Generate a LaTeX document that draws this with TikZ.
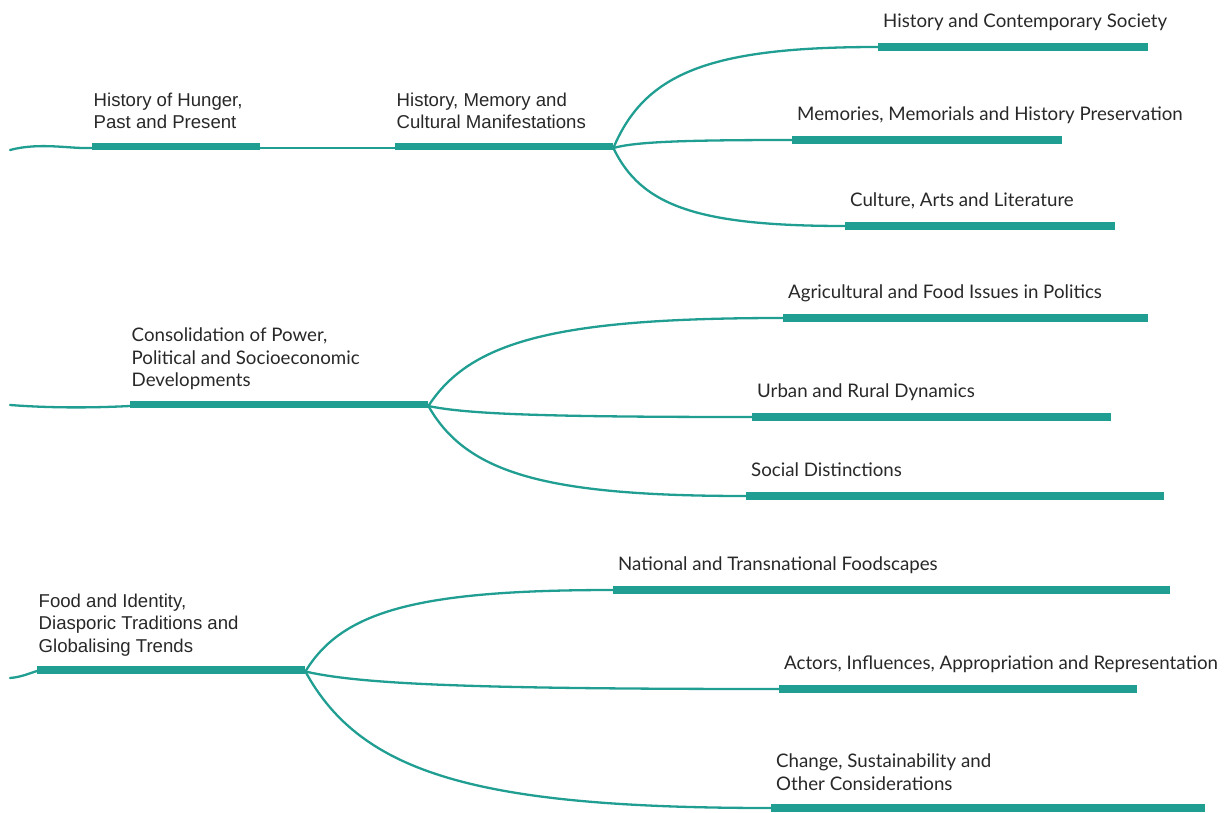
\documentclass[tikz,border=0pt]{standalone}
\usepackage{fontspec}
\setmainfont{Lato}
\newfontfamily\arialf{Liberation Sans}
\usetikzlibrary{calc}
\definecolor{tealc}{RGB}{32,158,146}
\definecolor{txtc}{RGB}{40,40,40}
\tikzset{
  bar/.style={rectangle, fill=tealc, draw=none, inner sep=0pt, minimum height=7.5pt, anchor=west},
  link/.style={draw=tealc, line width=2.3pt, line cap=round},
  labbase/.style={anchor=south west, inner sep=0pt, text depth=0pt, align=left, text=txtc},
  lab/.style={labbase, font=\fontsize{18.7}{22.5}\selectfont, xshift=5pt, yshift=15pt},
  plab/.style={labbase, font=\arialf\fontsize{18.6}{22.5}\selectfont, xshift=1.5pt, yshift=13.5pt},
  mlab/.style={labbase, font=\fontsize{18.7}{22.5}\selectfont, xshift=1.5pt, yshift=13.5pt},
  clab/.style={labbase, font=\fontsize{18.7}{22.5}\selectfont, xshift=5pt, yshift=13.5pt}
}
\newcommand\branchto[2]{\draw[link] let \p1=(#1), \p2=(#2) in
  (\p1) .. controls ({\x1+0.12*(\x2-\x1)},{\y1+0.75*(\y2-\y1)}) and ({\x1+0.37*(\x2-\x1)},{\y2}) .. (\p2);}
\begin{document}
\begin{tikzpicture}[x=1pt,y=-1pt]
\useasboundingbox (0,0) rectangle (1225,813);
% row 1
\node[bar, minimum width=168pt] (hunger) at (92,146.5) {};
\node[bar, minimum width=218pt] (histmem) at (395,146.5) {};
\node[bar, minimum width=270pt] (hcs) at (878,47) {};
\node[bar, minimum width=270pt] (mem) at (792,140) {};
\node[bar, minimum width=270pt] (cul) at (845,226) {};
% row 2
\node[bar, minimum width=298pt] (power) at (130,404.5) {};
\node[bar, minimum width=365pt] (agri) at (783,318) {};
\node[bar, minimum width=359pt] (urban) at (752,417) {};
\node[bar, minimum width=418pt] (social) at (746,496) {};
% row 3
\node[bar, minimum width=268pt] (food) at (37,670) {};
\node[bar, minimum width=557pt] (nat) at (613,590) {};
\node[bar, minimum width=358pt] (actors) at (779,689) {};
\node[bar, minimum width=434pt] (change) at (771,808) {};
% labels
\node[plab] (thunger) at (hunger.north west) {History of Hunger,\\Past and Present};
\node[plab] (thistmem) at (histmem.north west) {History, Memory and\\Cultural Manifestations};
\node[lab] (thcs) at (hcs.north west) {History and Contemporary Society};
\node[lab] (tmem) at (mem.north west) {Memories, Memorials and History Preservation};
\node[lab] (tcul) at (cul.north west) {Culture, Arts and Literature};
\node[mlab] (tpower) at (power.north west) {Consolidation of Power,\\Political and Socioeconomic\\Developments};
\node[lab] (tagri) at (agri.north west) {Agricultural and Food Issues in Politics};
\node[lab] (turban) at (urban.north west) {Urban and Rural Dynamics};
\node[lab] (tsocial) at (social.north west) {Social Distinctions};
\node[plab] (tfood) at (food.north west) {Food and Identity,\\Diasporic Traditions and\\Globalising Trends};
\node[lab] (tnat) at (nat.north west) {National and Transnational Foodscapes};
\node[lab] (tactors) at (actors.north west) {Actors, Influences, Appropriation and Representation};
\node[clab] (tchange) at (change.north west) {Change, Sustainability and\\Other Considerations};
% incoming lines
\coordinate (s1) at (10,150);
\coordinate (s2) at (10,405);
\coordinate (s3) at (10,678);
\draw[link] (s1) .. controls (40,142) and (70,149) .. ([yshift=-1.5pt]hunger.west);
\draw[link] ([yshift=-1.5pt]hunger.east) -- ([yshift=-1.5pt]histmem.west);
\draw[link] (s2) .. controls (50,408) and (90,408) .. ([yshift=-1.5pt]power.west);
\draw[link] (s3) .. controls (22,677) and (30,673) .. ([yshift=-1pt]food.west);
% branches
\branchto{[yshift=-1.5pt]histmem.east}{hcs.west}
\branchto{[yshift=-1.5pt]histmem.east}{mem.west}
\branchto{[yshift=-1.5pt]histmem.east}{cul.west}
\branchto{[yshift=-1.5pt]power.east}{agri.west}
\branchto{[yshift=-1.5pt]power.east}{urban.west}
\branchto{[yshift=-1.5pt]power.east}{social.west}
\branchto{[yshift=-1.5pt]food.east}{nat.west}
\branchto{[yshift=-1.5pt]food.east}{actors.west}
\branchto{[yshift=-1.5pt]food.east}{change.west}
\end{tikzpicture}
\end{document}
